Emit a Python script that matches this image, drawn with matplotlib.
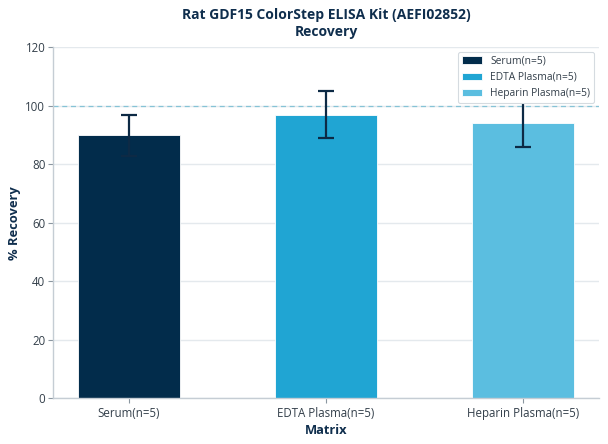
import matplotlib
matplotlib.use("Agg")
import matplotlib.pyplot as plt

categories = ["Serum(n=5)", "EDTA Plasma(n=5)", "Heparin Plasma(n=5)"]
recovery = [90, 97, 94]
errors = [7, 8, 8]
colors = ["#022C4B", "#20A5D3", "#5BBEE0"]

plt.rcParams['font.family'] = ['Open Sans', 'DejaVu Sans']
text_col = "#0F2E4D"
tick_col = "#333F4A"

fig = plt.figure(figsize=(6.08, 4.44), dpi=100)
ax = fig.add_axes([0.087, 0.103, 0.898, 0.7905])

x = list(range(len(categories)))
for i in x:
    ax.bar(i, recovery[i], width=0.52, color=colors[i], label=categories[i],
           edgecolor="white", linewidth=0.6, zorder=2)
    ax.errorbar(i, recovery[i], yerr=errors[i], fmt="none", ecolor="#0D2A45",
                elinewidth=1.6, capsize=6, capthick=1.6, zorder=3)

ax.axhline(100, color="#86C3D6", linestyle=(0, (4, 3)), linewidth=0.9, zorder=1)

ax.set_ylim(0, 120)
ax.set_yticks([0, 20, 40, 60, 80, 100, 120])
ax.set_xticks(x)
ax.set_xticklabels(categories)
ax.yaxis.grid(True, color="#E4E9ED", linewidth=1, zorder=0)
ax.set_axisbelow(True)

for s in ["top", "right"]:
    ax.spines[s].set_visible(False)
for s in ["left", "bottom"]:
    ax.spines[s].set_color("#C5CDD4")
    ax.spines[s].set_linewidth(1)
ax.tick_params(colors="#8A96A0", labelcolor=tick_col, labelsize=8.3, length=3.5)
ax.tick_params(axis="x", pad=2.5)
ax.tick_params(axis="y", pad=2)

ax.set_xlabel("Matrix", fontsize=9.25, fontweight="bold", color=text_col, labelpad=3)
ax.set_ylabel("% Recovery", fontsize=9.25, fontweight="bold", color=text_col, labelpad=3)
ax.set_title("Rat GDF15 ColorStep ELISA Kit (AEFI02852)\nRecovery", fontsize=10,
             fontweight="bold", color=text_col, linespacing=1.3, pad=8)

leg = ax.legend(loc="upper right", fontsize=7.4, frameon=True, fancybox=True,
                edgecolor="#D5DBE0", framealpha=1.0, borderpad=0.38, handlelength=2.0,
                handleheight=0.75, labelspacing=0.5, borderaxespad=0.45)
leg.set_zorder(5)
leg.get_frame().set_linewidth(0.8)
for t in leg.get_texts():
    t.set_color(tick_col)

fig.savefig("out.png", dpi=100)
